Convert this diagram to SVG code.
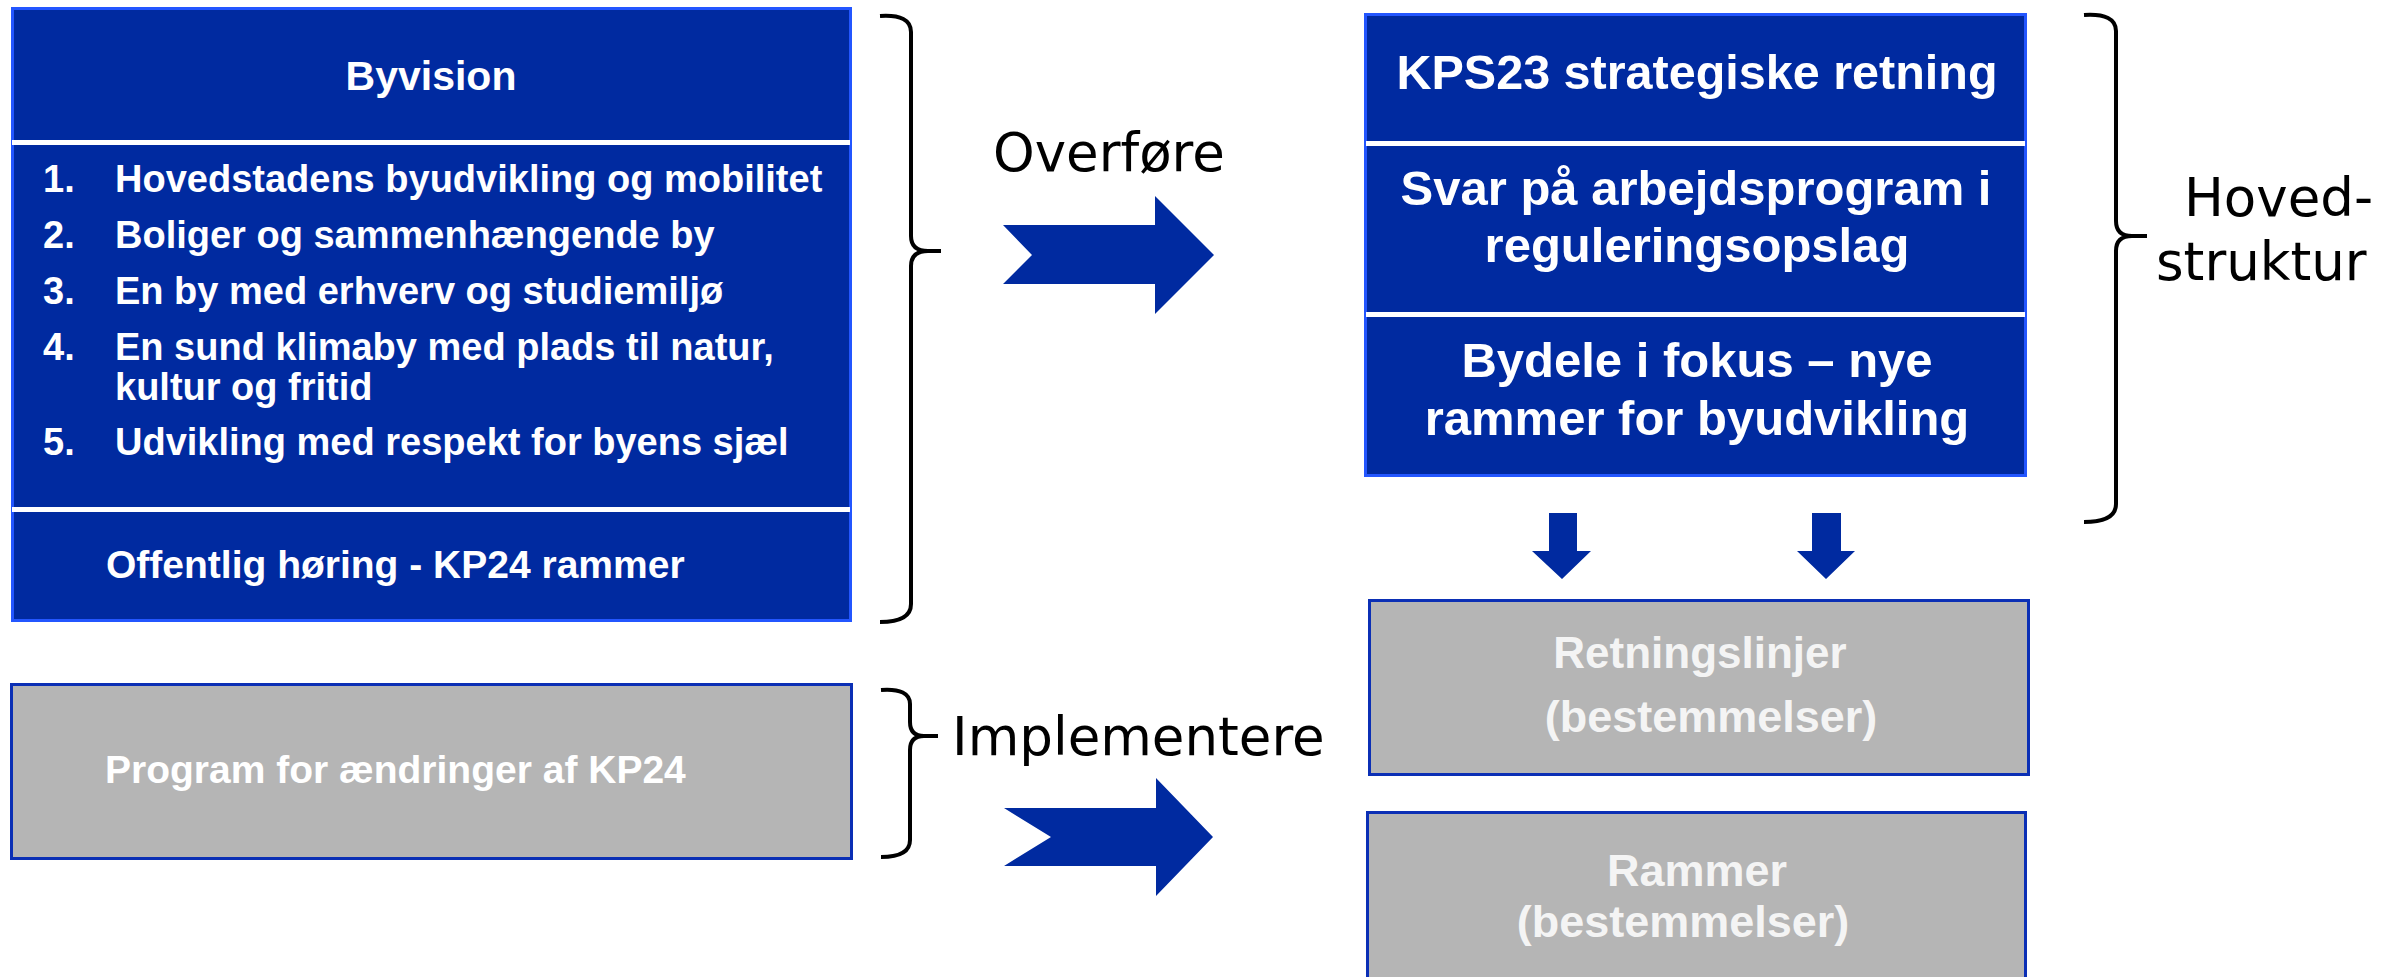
<svg xmlns="http://www.w3.org/2000/svg" width="2389" height="977" viewBox="0 0 2389 977">
  <style>
    .blue { fill: #002AA0; stroke: #2356FF; stroke-width: 3; }
    .grey { fill: #B5B5B5; stroke: #0B2FB5; stroke-width: 3; }
    .sep { fill: #FFFFFF; }
    .wt { font-family: "Liberation Sans", Arial, sans-serif; font-weight: bold; fill: #FFFFFF; }
    .gt { font-family: "Liberation Sans", Arial, sans-serif; font-weight: bold; fill: #F4F4F4; }
    .bt { font-family: "DejaVu Sans", "Liberation Sans", sans-serif; fill: #000000; font-size: 53px; }
    .brace { fill: none; stroke: #000000; stroke-width: 4; stroke-linecap: butt; stroke-linejoin: round; }
    .arrow { fill: #002AA0; }
  </style>
  <rect width="2389" height="977" fill="#FFFFFF"/>

  <g id="byvision">
    <rect class="blue" x="12.5" y="8.5" width="838" height="612"/>
    <rect class="sep" x="12" y="140" width="838" height="5"/>
    <rect class="sep" x="12" y="507" width="838" height="5"/>
    <text class="wt" x="431" y="90" font-size="41" text-anchor="middle">Byvision</text>
    <g font-size="38">
      <text class="wt" x="43" y="192">1.</text>
      <text class="wt" x="115" y="192">Hovedstadens byudvikling og mobilitet</text>
      <text class="wt" x="43" y="248">2.</text>
      <text class="wt" x="115" y="248">Boliger og sammenhængende by</text>
      <text class="wt" x="43" y="304">3.</text>
      <text class="wt" x="115" y="304">En by med erhverv og studiemiljø</text>
      <text class="wt" x="43" y="360">4.</text>
      <text class="wt" x="115" y="360">En sund klimaby med plads til natur,</text>
      <text class="wt" x="115" y="400">kultur og fritid</text>
      <text class="wt" x="43" y="455">5.</text>
      <text class="wt" x="115" y="455">Udvikling med respekt for byens sjæl</text>
    </g>
    <text class="wt" x="106" y="578" font-size="39">Offentlig høring - KP24 rammer</text>
  </g>

  <g id="program">
    <rect class="grey" x="11.5" y="684.5" width="840" height="174"/>
    <text class="wt" x="105" y="783" font-size="39">Program for ændringer af KP24</text>
  </g>

  <g id="kps23">
    <rect class="blue" x="1365.5" y="14.5" width="660" height="461"/>
    <rect class="sep" x="1366" y="141" width="659" height="5"/>
    <rect class="sep" x="1366" y="312" width="659" height="5"/>
    <text class="wt" x="1697" y="89" font-size="48.5" text-anchor="middle">KPS23 strategiske retning</text>
    <text class="wt" x="1696" y="205" font-size="49" text-anchor="middle">Svar på arbejdsprogram i</text>
    <text class="wt" x="1697" y="262" font-size="49" text-anchor="middle">reguleringsopslag</text>
    <text class="wt" x="1697" y="377" font-size="49" text-anchor="middle">Bydele i fokus – nye</text>
    <text class="wt" x="1697" y="435" font-size="49" text-anchor="middle">rammer for byudvikling</text>
  </g>

  <g id="retningslinjer">
    <rect class="grey" x="1369.5" y="600.5" width="659" height="174"/>
    <text class="gt" x="1700" y="668" font-size="44" text-anchor="middle">Retningslinjer</text>
    <text class="gt" x="1711" y="732" font-size="45" text-anchor="middle">(bestemmelser)</text>
  </g>

  <g id="rammer">
    <rect class="grey" x="1367.5" y="812.5" width="658" height="190"/>
    <text class="gt" x="1697" y="886" font-size="45" text-anchor="middle">Rammer</text>
    <text class="gt" x="1683" y="937" font-size="45" text-anchor="middle">(bestemmelser)</text>
  </g>

  <g id="labels">
    <text class="bt" x="993" y="171">Overføre</text>
    <text class="bt" x="952" y="755">Implementere</text>
    <text class="bt" x="2184" y="216">Hoved-</text>
    <text class="bt" x="2156" y="280">struktur</text>
  </g>

  <g id="braces">
    <path class="brace" d="M880,16 Q911,14 911,32 V236 Q911,251 928,251 H941 M928,251 Q911,251 911,266 V604 Q911,622 880,622"/>
    <path class="brace" d="M2084,15 Q2116,13 2116,31 V221 Q2116,236 2132,236 H2147 M2132,236 Q2116,236 2116,251 V504 Q2116,522 2084,522"/>
    <path class="brace" d="M881,690 Q910,688 910,704 V722 Q910,736 924,736 H938 M924,736 Q910,736 910,750 V840 Q910,857 881,857"/>
  </g>

  <g id="connectors">
    <polygon class="arrow" points="1003,225 1155,225 1155,196 1214,255 1155,314 1155,284 1003,284 1032,255"/>
    <polygon class="arrow" points="1004,808 1156,808 1156,778 1213,837 1156,896 1156,866 1004,866 1051,837"/>
    <polygon class="arrow" points="1549,513 1577,513 1577,551 1591,551 1562,579 1532,551 1549,551"/>
    <polygon class="arrow" points="1812,513 1841,513 1841,551 1855,551 1826,579 1797,551 1812,551"/>
  </g>
</svg>
